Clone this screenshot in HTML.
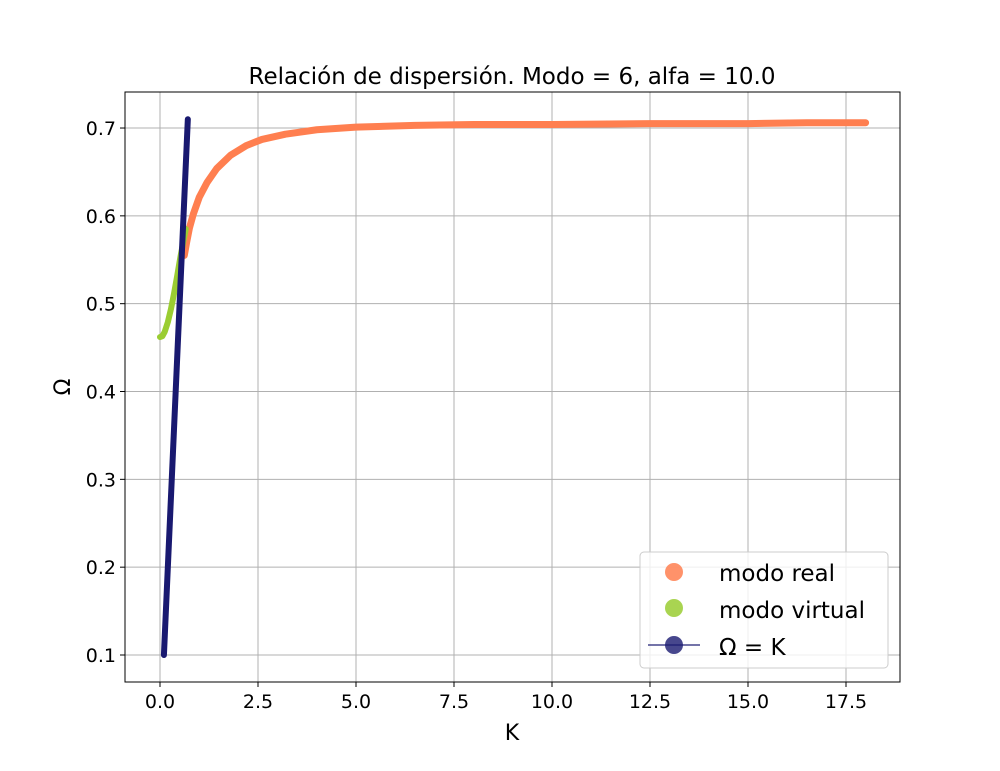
<!DOCTYPE html>
<html><head><meta charset="utf-8"><style>
body{margin:0;background:#fff}
svg text{font-family:"DejaVu Sans","Liberation Sans",sans-serif;fill:#000}
</style></head><body>
<svg id="c" width="1000" height="766" xmlns="http://www.w3.org/2000/svg"></svg>
<script>
const xTicks=[0,2.5,5,7.5,10,12.5,15,17.5];
const yTicks=[0.1,0.2,0.3,0.4,0.5,0.6,0.7];
const realK=[0.62,0.68,0.75,0.85,1.0,1.2,1.45,1.8,2.2,2.6,3.2,4.0,5.0,6.5,8,10,12.5,15,16.5,18];
const realW=[0.555,0.57,0.586,0.602,0.621,0.638,0.654,0.669,0.680,0.687,0.693,0.698,0.701,0.703,0.704,0.704,0.705,0.705,0.706,0.706];
const virtK=[0.0,0.06,0.12,0.2,0.28,0.36,0.44,0.52,0.6,0.66];
const virtW=[0.462,0.463,0.468,0.479,0.494,0.512,0.532,0.553,0.572,0.585];
const lineK=[0.1,0.2,0.3,0.4,0.5,0.6,0.71];
const lineW=[0.1,0.2,0.3,0.4,0.5,0.6,0.71];
const svg=document.getElementById('c');const NS='http://www.w3.org/2000/svg';
const L=125,R=900,T=92,B=682;
const xs=k=>160+k*39.2, ys=w=>655-(w-0.1)*878.3;
function mk(t,a,p){const e=document.createElementNS(NS,t);for(const k in a)e.setAttribute(k,a[k]);(p||svg).appendChild(e);return e;}
let e;
xTicks.forEach(v=>{const x=xs(v);
e=mk('line',{x1:x,y1:T,x2:x,y2:B,stroke:'#b0b0b0','stroke-width':1});

e=mk('line',{x1:x,y1:B,x2:x,y2:B+5,stroke:'#000'});
e=mk('text',{x:x,y:B+26,'text-anchor':'middle','font-size':19});e.textContent=v.toFixed(1);
});
yTicks.forEach(v=>{const y=ys(v);
e=mk('line',{x1:L,y1:y,x2:R,y2:y,stroke:'#b0b0b0','stroke-width':1});

e=mk('line',{x1:L-5,y1:y,x2:L,y2:y,stroke:'#000'});
e=mk('text',{x:L-9,y:y+7,'text-anchor':'end','font-size':19});e.textContent=v.toFixed(1);
});
function curve(K,W,col,w,name){const d=K.map((k,i)=>(i?'L':'M')+xs(k)+','+ys(W[i])).join(' ');
e=mk('path',{d:d,fill:'none',stroke:col,'stroke-width':w,'stroke-linecap':'round','stroke-linejoin':'round'});
}
curve(realK,realW,'#ff7f50',7,'modo-real-series');
curve(virtK,virtW,'#9acd32',6,'modo-virtual-series');
curve(lineK,lineW,'#191970',6,'omega-eq-k-series');
e=mk('rect',{x:L,y:T,width:R-L,height:B-T,fill:'none',stroke:'#000','stroke-width':1});

e=mk('text',{x:512,y:84,'text-anchor':'middle','font-size':23});e.textContent='Relación de dispersión. Modo = 6, alfa = 10.0';

e=mk('text',{x:512,y:740,'text-anchor':'middle','font-size':22});e.textContent='K';

e=mk('text',{x:70,y:387,'text-anchor':'middle','font-size':22,transform:'rotate(-90 70 387)'});e.textContent='Ω';

const g=mk('g',{});
mk('rect',{x:640,y:552,width:248,height:116,rx:4,fill:'rgba(255,255,255,0.8)',stroke:'#ccc'},g);
mk('circle',{cx:674,cy:572,r:9,fill:'#ff7f50',opacity:0.85},g);
mk('circle',{cx:674,cy:608,r:9,fill:'#9acd32',opacity:0.85},g);
mk('line',{x1:648,y1:645,x2:700,y2:645,stroke:'#191970','stroke-width':1.5,opacity:0.8},g);
mk('circle',{cx:674,cy:645,r:9,fill:'#191970',opacity:0.8},g);
[['modo real',581],['modo virtual',618],['Ω = K',655]].forEach(([t,y])=>{
const tx=mk('text',{x:719,y:y,'font-size':23},g);tx.textContent=t;
});
</script>
</body></html>
